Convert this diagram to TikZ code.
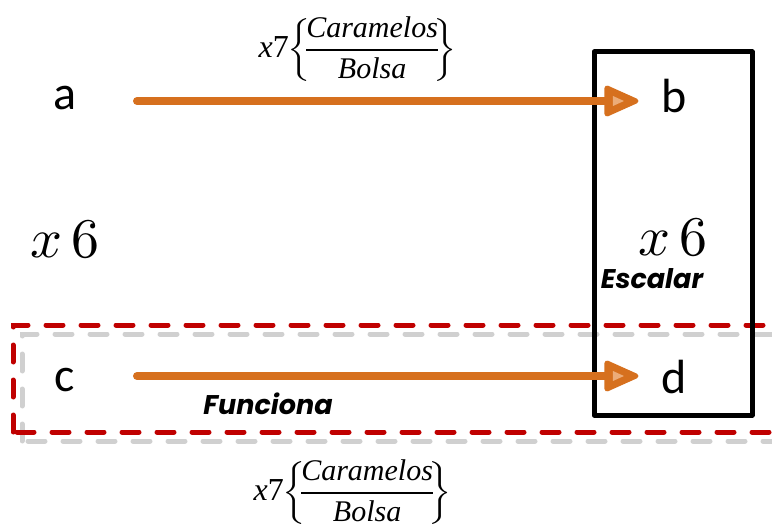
\documentclass[tikz,border=0pt]{standalone}
\usepackage{unicode-math}
\setmathfont{Latin Modern Math}
\newfontfamily\calib{Carlito}
\newfontfamily\tnr{Liberation Serif}
\newfontfamily\gothic{Poppins}
\usetikzlibrary{decorations.markings}
\definecolor{flowor}{RGB}{214,112,30}
\definecolor{flowhi}{RGB}{236,172,120}
\definecolor{dred}{RGB}{192,0,0}
\definecolor{lgray}{RGB}{208,208,208}
\tikzset{
  letter/.style={font=\calib\fontsize{48}{54}\selectfont, inner sep=0pt},
  factor/.style={font=\fontsize{56}{62}\selectfont, inner sep=0pt, anchor=base},
  tag/.style={font=\gothic\bfseries\itshape\fontsize{27}{32}\selectfont, inner sep=0pt, anchor=base},
  rate/.style={font=\fontsize{30}{36}\selectfont, inner sep=0pt},
  % shaft with a rounded triangular head and a light inner highlight
  flow/.style={draw=flowor, line width=8pt, line cap=round,
    postaction={decorate, decoration={markings,
      mark=at position -0.01pt with {
        \filldraw[flowor, line width=5pt, line join=round] (-3pt,-13pt) -- (26pt,0pt) -- (-3pt,13pt) -- cycle;
        \fill[flowhi] (3pt,-5pt) -- (14pt,0pt) -- (3pt,5pt) -- cycle;}}}},
  groupline/.style={line width=5pt, line cap=round, dash pattern=on 17pt off 18pt},
  frame/.style={draw=black, line width=5pt, line join=round}
}
\newcommand{\caramelrate}{$\displaystyle \mbox{\tnr\fontsize{32}{36}\selectfont\itshape x}\mbox{\tnr\fontsize{32}{36}\selectfont 7}\!\left\{\!\frac{\mbox{\tnr\itshape Caramelos}}{\mbox{\tnr\itshape Bolsa}}\!\right\}$}
\begin{document}
\begin{tikzpicture}[x=1pt,y=-1pt]
\useasboundingbox (0,0) rectangle (772,527);

% grouping of the second row: grey shadow, then red outline
\draw[groupline, draw=lgray] (22,441) -- (22,334) -- (784,334) -- (784,441) -- cycle;
\draw[groupline, draw=dred] (13,432) -- (13,325) -- (774,325) -- (774,432) -- cycle;

% scaled column
\draw[frame] (594,52) rectangle (752,415);

% quantities
\node[letter] (a) at (65,98) {a};
\node[letter] (b) at (674,96) {b};
\node[letter] (c) at (65,380) {c};
\node[letter] (d) at (674,377) {d};

% arrow end points (the head is drawn beyond them)
\coordinate (a-tail) at (137,101);
\coordinate (b-head) at (610,101);
\coordinate (c-tail) at (137,376);
\coordinate (d-head) at (610,376);

\draw[flow] (a-tail) -- (b-head);
\draw[flow] (c-tail) -- (d-head);

% factors
\node[factor] (fl) at (65,257) {$x\,6$};
\node[factor] (fr) at (673,255) {$x\,6$};

% tags
\node[tag] (esc) at (652,288) {Escalar};
\node[tag] (fun) at (268,414) {Funciona};

% rates
\node[rate] (rtop) at (357,49) {\caramelrate};
\node[rate] (rbot) at (352,492) {\caramelrate};
\end{tikzpicture}
\end{document}
